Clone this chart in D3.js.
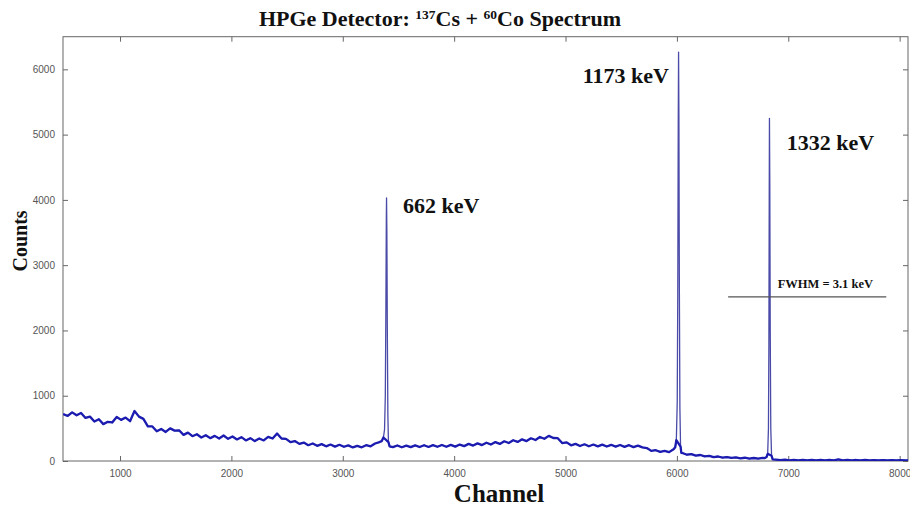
<!DOCTYPE html>
<html>
<head>
<meta charset="utf-8">
<script src="https://cdn.jsdelivr.net/npm/d3@7"></script>
<style>
  body { margin: 0; background: #fff; }
  svg { display: block; }
  .tick text { font-family: "Liberation Sans", Arial, sans-serif; font-size: 10px; fill: #555; }
  .tick line { stroke: #666; }
  .lbl { font-family: "Liberation Serif", "Times New Roman", serif; font-weight: bold; fill: #111; }
</style>
</head>
<body>
<div id="chart"></div>
<script>
// continuum, one value every 40 channels from channel 490 (null = covered by a peak below)
const contStart = 490, contStep = 40;
const contCounts = [
  720, 690, 745, 700, 735, 660, 680, 605, 640, 565,
  600, 590, 675, 630, 665, 610, 765, 680, 645, 530,
  530, 455, 490, 445, 500, 465, 470, 400, 435, 380,
  410, 360, 395, 350, 385, 345, 390, 340, 375, 330,
  365, 315, 350, 305, 345, 315, 370, 345, 420, 345,
  340, 290, 305, 262, 282, 242, 268, 232, 258, 225,
  252, 220, 248, 218, 240, 208, 232, 210, 242, 225,
  268, 290, null, null, 212, 238, 210, 236, 212, 240,
  214, 242, 215, 244, 218, 246, 218, 247, 220, 252,
  228, 262, 236, 270, 244, 280, 252, 290, 262, 302,
  276, 318, 292, 332, 305, 348, 322, 368, 340, 385,
  352, 350, 275, 285, 240, 262, 230, 256, 226, 252,
  224, 250, 222, 248, 220, 245, 217, 242, 213, 236,
  208, 198, 155, 165, 140, 156, 136, null, null, 122,
  96, 106, 82, 92, 71, 79, 61, 69, 53, 61,
  47, 55, 41, 50, 37, 46, 36, 47, null, null,
  22, 12, 19, 11, 18, 10, 17, 9, 17, 10,
  16, 9, 17, 10, 24, 9, 16, 10, 15, 9,
  16, 9, 14, 8, 15, 9, 14, 8, 13, 9, 12
];

// photopeaks
const peak662Ch = [3350, 3365, 3375, 3382, 3387, 3391, 3393, 3396, 3400, 3405, 3410, 3420];
const peak662Counts = [305, 360, 480, 1000, 2300, 3700, 4030, 3500, 2000, 700, 290, 225];
const peak1173Ch = [5970, 5985, 5995, 6003, 6008, 6012, 6015, 6018, 6022, 6027, 6033, 6040];
const peak1173Counts = [180, 210, 320, 900, 2600, 5100, 6265, 5300, 2700, 800, 220, 125];
const peak1332Ch = [6790, 6805, 6815, 6822, 6826, 6829, 6831, 6834, 6838, 6843, 6850, 6860];
const peak1332Counts = [45, 60, 110, 500, 1800, 4000, 5250, 4300, 2000, 500, 80, 25];

const xTicks = [1000, 2000, 3000, 4000, 5000, 6000, 7000, 8000];
const yTicks = [0, 1000, 2000, 3000, 4000, 5000, 6000];

const peakLabels = ["662 keV", "1173 keV", "1332 keV"];
const peakLabelCh = [3540, 5155, 6986];
const peakLabelCounts = [3805, 5785, 4765];

const fwhmText = "FWHM = 3.1 keV";
const fwhmRange = [6460, 7880];
const fwhmCounts = 2515;

const width = 910, height = 508;
const pLeft = 63, pRight = 908, pTop = 36.7, pBottom = 461;

const x = d3.scaleLinear().domain([488, 8075]).range([pLeft, pRight]);
const y = d3.scaleLinear().domain([0, 6500]).range([pBottom, pTop]);

let pts = [];
contCounts.forEach((c, i) => { if (c != null) pts.push([contStart + i * contStep, c]); });
[[peak662Ch, peak662Counts], [peak1173Ch, peak1173Counts], [peak1332Ch, peak1332Counts]]
  .forEach(([chs, cs]) => chs.forEach((ch, i) => pts.push([ch, cs[i]])));
pts.sort((a, b) => a[0] - b[0]);
// points at the foot of the spectrum (drawn heavier, like the noisy band)
const basePts = pts.filter(d => d[1] < 400 || d[0] < 3000);

const svg = d3.select('#chart').append('svg')
  .attr('width', width)
  .attr('height', height);

svg.append('defs').append('clipPath').attr('id', 'clip')
  .append('rect').attr('x', pLeft).attr('y', pTop)
  .attr('width', pRight - pLeft).attr('height', pBottom - pTop);

// axes, MATLAB style ticks pointing inward on all four sides
svg.append('g').attr('transform', `translate(0,${pBottom})`)
  .call(d3.axisBottom(x).tickValues(xTicks).tickSize(-5).tickSizeOuter(0).tickPadding(9).tickFormat(d3.format('d')));
svg.append('g').attr('transform', `translate(0,${pTop})`)
  .call(d3.axisTop(x).tickValues(xTicks).tickSize(-5).tickSizeOuter(0).tickFormat(''));
svg.append('g').attr('transform', `translate(${pLeft},0)`)
  .call(d3.axisLeft(y).tickValues(yTicks).tickSize(-5).tickSizeOuter(0).tickPadding(8).tickFormat(d3.format('d')));
svg.append('g').attr('transform', `translate(${pRight},0)`)
  .call(d3.axisRight(y).tickValues(yTicks).tickSize(-5).tickSizeOuter(0).tickFormat(''));
svg.selectAll('.domain').remove();

svg.append('rect')
  .attr('x', pLeft).attr('y', pTop)
  .attr('width', pRight - pLeft).attr('height', pBottom - pTop)
  .attr('fill', 'none').attr('stroke', '#666');

const line = d3.line().x(d => x(d[0])).y(d => y(d[1]));
// thin line through everything (the peaks)
svg.append('path')
  .datum(pts)
  .attr('clip-path', 'url(#clip)')
  .attr('d', line)
  .attr('fill', 'none')
  .attr('stroke', '#4a4aa8')
  .attr('stroke-width', 1.3)
  .attr('stroke-linejoin', 'round');
// heavier noisy continuum on top
svg.append('path')
  .datum(basePts)
  .attr('clip-path', 'url(#clip)')
  .attr('d', line)
  .attr('fill', 'none')
  .attr('stroke', '#1c1cb0')
  .attr('stroke-width', 2.3)
  .attr('stroke-linejoin', 'round');

// FWHM marker
svg.append('line')
  .attr('x1', x(fwhmRange[0])).attr('x2', x(fwhmRange[1]))
  .attr('y1', y(fwhmCounts)).attr('y2', y(fwhmCounts))
  .attr('stroke', '#555').attr('stroke-width', 1.2);
svg.append('text').attr('class', 'lbl')
  .attr('x', x(6905)).attr('y', y(2645))
  .style('font-size', '12.5px')
  .text(fwhmText);

svg.selectAll('text.peak')
  .data(peakLabels)
  .enter().append('text')
  .attr('class', 'lbl peak')
  .attr('x', (d, i) => x(peakLabelCh[i]))
  .attr('y', (d, i) => y(peakLabelCounts[i]))
  .style('font-size', '22px')
  .text(d => d);

// title with superscripts
const title = svg.append('text').attr('class', 'lbl')
  .attr('x', 440).attr('y', 26)
  .attr('text-anchor', 'middle')
  .style('font-size', '22px');
title.append('tspan').text('HPGe Detector: ');
title.append('tspan').attr('dy', -7).style('font-size', '13.5px').text('137');
title.append('tspan').attr('dy', 7).text('Cs + ');
title.append('tspan').attr('dy', -7).style('font-size', '13.5px').text('60');
title.append('tspan').attr('dy', 7).text('Co Spectrum');

svg.append('text').attr('class', 'lbl')
  .attr('x', 499).attr('y', 502)
  .attr('text-anchor', 'middle')
  .style('font-size', '25px')
  .text('Channel');

svg.append('text').attr('class', 'lbl')
  .attr('transform', 'translate(27,241) rotate(-90)')
  .attr('text-anchor', 'middle')
  .style('font-size', '20px')
  .text('Counts');
</script>
</body>
</html>
